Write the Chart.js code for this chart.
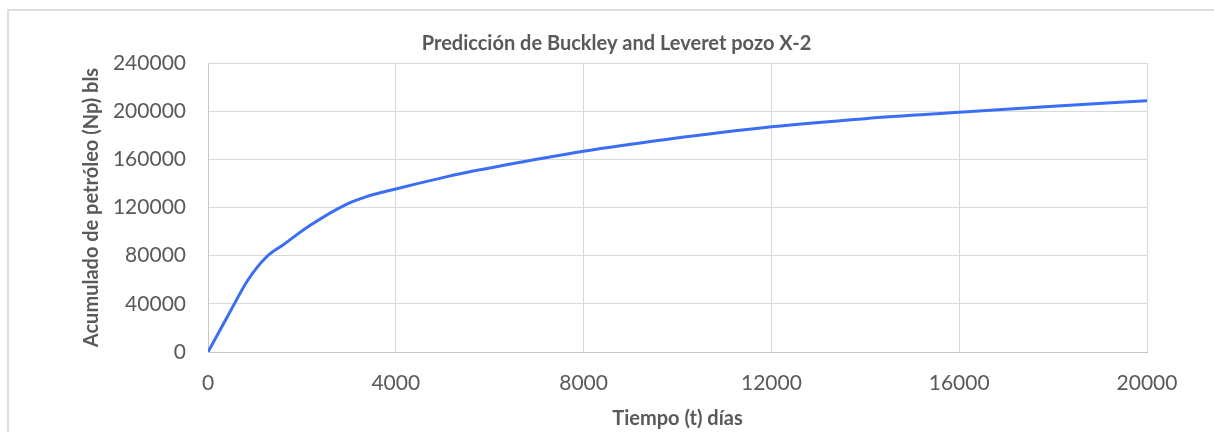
<!DOCTYPE html>
<html>
<head>
<meta charset="utf-8">
<script src="https://cdn.jsdelivr.net/npm/chart.js@4/dist/chart.umd.min.js"></script>
<style>
  html, body { margin: 0; padding: 0; background: #ffffff; }
  #wrap { position: relative; width: 1214px; height: 432px; overflow: hidden; }
  #frame { position: absolute; left: 7px; top: 9px; width: 1240px; height: 460px; border: 2px solid #dedede; box-sizing: border-box; }
  #c { position: absolute; left: 0; top: 0; }
</style>
</head>
<body>
<div id="wrap">
  <div id="frame"></div>
  <canvas id="c" width="1214" height="432"></canvas>
</div>
<script>
// Data
const tiempoDias = [0, 430, 851, 1249, 1596, 2170, 2915, 3377, 4000, 4936, 5500, 7000, 8000, 9760, 12000, 14000, 16000, 18000, 20000];
const acumuladoNp = [0, 30500, 59800, 79100, 88900, 105000, 122000, 129000, 135400, 144200, 149000, 160000, 166800, 176500, 187000, 193800, 199000, 204000, 208700];

const titleText = 'Predicción de Buckley and Leveret pozo X-2';
const xTitle = 'Tiempo (t) días';
const yTitle = 'Acumulado de petróleo (Np) bls';
const xTicksStep = 4000;
const yTicksStep = 40000;

const points = tiempoDias.map((t, i) => ({ x: t, y: acumuladoNp[i] }));

const FONT = 'Lato, "Open Sans", sans-serif';
const TXT = '#595959';
const GRID = '#d9d9d9';

// Shift the title block so it is centred like the reference
const titleShift = {
  id: 'titleShift',
  afterLayout(chart) {
    const t = chart.titleBlock;
    if (t) { t.left = 86; t.right = 1147; }
  }
};

new Chart(document.getElementById('c'), {
  type: 'scatter',
  data: {
    datasets: [{
      label: 'Np',
      data: points,
      showLine: true,
      borderColor: '#3b6ef5',
      borderWidth: 3,
      pointRadius: 0,
      cubicInterpolationMode: 'monotone',
      fill: false
    }]
  },
  plugins: [titleShift],
  options: {
    responsive: false,
    animation: false,
    devicePixelRatio: 1,
    layout: { padding: { left: 0, right: 67, top: 0, bottom: 0 } },
    plugins: {
      legend: { display: false },
      tooltip: { enabled: false },
      title: {
        display: true,
        text: titleText,
        color: TXT,
        font: { family: FONT, size: 20, weight: 'bold', lineHeight: 1.2 },
        padding: { top: 32, bottom: 7 }
      }
    },
    scales: {
      x: {
        type: 'linear',
        min: 0,
        max: 20000,
        afterFit: (s) => { s.height = 80; },
        ticks: {
          stepSize: xTicksStep,
          color: TXT,
          padding: 19,
          font: { family: FONT, size: 21, lineHeight: 1.2 },
          callback: (v) => String(v),
          maxRotation: 0
        },
        grid: { color: GRID, lineWidth: 1, drawTicks: false },
        border: { color: '#c6c6c6', width: 1 },
        title: {
          display: true,
          text: xTitle,
          color: TXT,
          font: { family: FONT, size: 20, weight: 'bold', lineHeight: 1.2 },
          padding: { top: 0, bottom: 1 }
        }
      },
      y: {
        type: 'linear',
        min: 0,
        max: 240000,
        afterFit: (s) => { s.width = 208; },
        ticks: {
          stepSize: yTicksStep,
          color: TXT,
          padding: 22,
          font: { family: FONT, size: 21, lineHeight: 1.2 },
          callback: (v) => String(v)
        },
        grid: { color: GRID, lineWidth: 1, drawTicks: false },
        border: { color: '#c6c6c6', width: 1 },
        title: {
          display: true,
          text: yTitle,
          color: TXT,
          font: { family: FONT, size: 20, weight: 'bold', lineHeight: 1.2 },
          padding: { top: 80, bottom: 0 }
        }
      }
    }
  }
});
</script>
</body>
</html>
